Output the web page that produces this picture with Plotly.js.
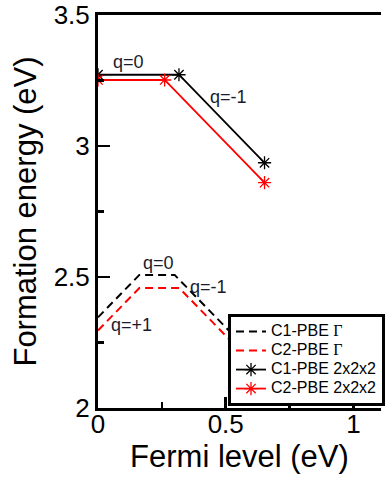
<!DOCTYPE html>
<html><head><meta charset="utf-8">
<script src="https://cdn.plot.ly/plotly-3.0.1.min.js"></script>
<style>html,body{margin:0;padding:0;background:#fff;}#chart{width:385px;height:478px;}</style>
</head><body><div id="chart"></div>
<script>
// Data
const c1GammaX = [0, 0.162, 0.30, 0.65];
const c1GammaY = [2.346, 2.508, 2.508, 2.158];
const c2GammaX = [0, 0.162, 0.318, 0.65];
const c2GammaY = [2.296, 2.458, 2.458, 2.126];
const c1SuperX = [0, 0.317, 0.652];
const c1SuperY = [3.272, 3.272, 2.936];
const c2SuperX = [0, 0.261, 0.652];
const c2SuperY = [3.252, 3.252, 2.860];
const seriesNames = ['C1-PBE Γ', 'C2-PBE Γ', 'C1-PBE 2x2x2', 'C2-PBE 2x2x2'];
const labelText = ['q=0', 'q=-1', 'q=0', 'q=-1', 'q=+1'];
const labelX = [0.12, 0.51, 0.236, 0.432, 0.131];
const labelY = [3.32, 3.187, 2.553, 2.462, 2.317];
const xTickVals = [0, 0.5, 1];
const xTickText = ['0', '0.5', '1'];
const yTickVals = [2, 2.5, 3, 3.5];
const yTickText = ['2', '2.5', '3', '3.5'];

const FONT = 'Liberation Sans, Arial, sans-serif';
function legendLabel(s) {
  return '<span style="font-size:16px">' +
    s.replace('Γ', '<span style="font-family:Liberation Serif">Γ</span>') + '</span>';
}
const traces = [
  {x: c1GammaX, y: c1GammaY, name: legendLabel(seriesNames[0]), mode: 'lines',
   line: {color: 'black', width: 2, dash: '8px,5px'}},
  {x: c2GammaX, y: c2GammaY, name: legendLabel(seriesNames[1]), mode: 'lines',
   line: {color: 'red', width: 2, dash: '8px,5px'}},
  {x: c1SuperX, y: c1SuperY, name: legendLabel(seriesNames[2]), mode: 'lines+markers',
   line: {color: 'black', width: 1.8},
   marker: {symbol: 'asterisk-open', size: 11, color: 'black', line: {color: 'black', width: 1.3}}},
  {x: c2SuperX, y: c2SuperY, name: legendLabel(seriesNames[3]), mode: 'lines+markers',
   line: {color: 'red', width: 1.8},
   marker: {symbol: 'asterisk-open', size: 11, color: 'red', line: {color: 'red', width: 1.3}}}
];

const annotations = labelText.map((t, i) => ({
  x: labelX[i], y: labelY[i], xref: 'x', yref: 'y', text: t, showarrow: false,
  font: {family: FONT, size: 18, color: '#1a1a2e'}
}));

const layout = {
  width: 385, height: 478,
  margin: {l: 98, r: 0, t: 15, b: 70, pad: 0},
  paper_bgcolor: 'white', plot_bgcolor: 'white',
  showlegend: true,
  font: {family: FONT, color: 'black'},
  xaxis: {
    range: [0, 1.108], showgrid: false, zeroline: false,
    showline: true, linecolor: 'black', linewidth: 3, mirror: true,
    ticks: 'inside', ticklen: 11, tickwidth: 2.5, tickcolor: 'black',
    tickvals: xTickVals, ticktext: xTickText,
    tickfont: {family: FONT, size: 26, color: 'black'},
    ticklabelstandoff: -9,
    minor: {ticks: 'inside', ticklen: 6, tickwidth: 2.5, tickcolor: 'black', dtick: 0.25, showgrid: false},
    title: {text: 'Fermi level (eV)', font: {family: FONT, size: 31, color: 'black'}, standoff: 0}
  },
  yaxis: {
    range: [2, 3.5], showgrid: false, zeroline: false,
    showline: true, linecolor: 'black', linewidth: 3, mirror: false,
    ticks: 'inside', ticklen: 12, tickwidth: 2.5, tickcolor: 'black',
    tickvals: yTickVals, ticktext: yTickText,
    tickfont: {family: FONT, size: 26, color: 'black'},
    minor: {ticks: 'inside', ticklen: 6, tickwidth: 2.5, tickcolor: 'black', dtick: 0.25, showgrid: false},
    title: {text: 'Formation energy (eV)', font: {family: FONT, size: 31, color: 'black'}, standoff: 8}
  },
  legend: {
    x: 0.46, y: 0.239, xanchor: 'left', yanchor: 'top',
    bgcolor: 'white', bordercolor: 'black', borderwidth: 3,
    font: {family: FONT, size: 12, color: 'black'},
    tracegroupgap: 0, itemwidth: 30
  },
  annotations: annotations
};

Plotly.newPlot('chart', traces, layout, {displayModeBar: false, staticPlot: true});
</script></body></html>
